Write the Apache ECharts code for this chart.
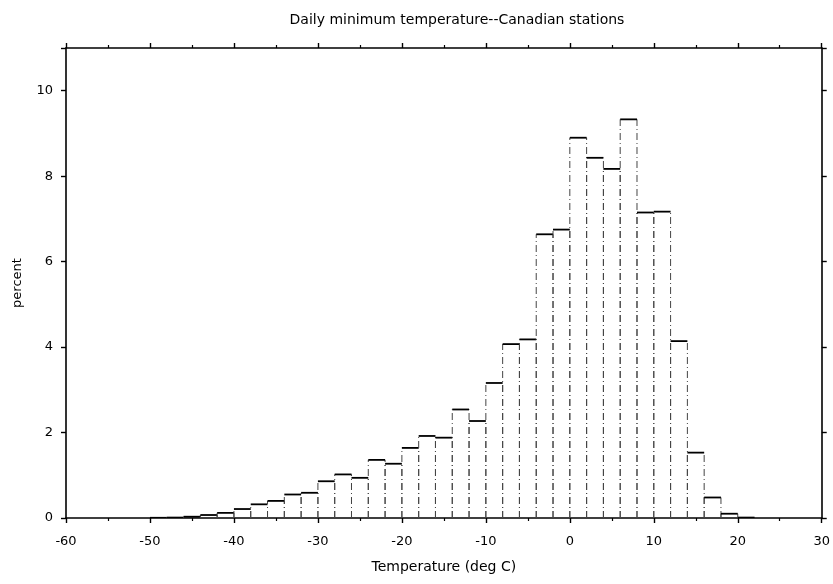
<!DOCTYPE html>
<html>
<head>
<meta charset="utf-8">
<script src="https://cdn.jsdelivr.net/npm/echarts@6/dist/echarts.min.js"></script>
<style>
html,body{margin:0;padding:0;background:#fff;}
#chart{width:833px;height:584px;}
</style>
</head>
<body>
<div id="chart"></div>
<script>
// Histogram bins (deg C), 2-degree width
var binStart = [-50,-48,-46,-44,-42,-40,-38,-36,-34,-32,-30,-28,-26,-24,-22,-20,-18,-16,-14,-12,-10,-8,-6,-4,-2,0,2,4,6,8,10,12,14,16,18,20];
var binWidth = 2;
var percentValues = [0.005,0.01,0.03,0.07,0.12,0.21,0.32,0.40,0.55,0.59,0.86,1.02,0.94,1.36,1.27,1.64,1.92,1.88,2.54,2.27,3.16,4.07,4.18,6.64,6.75,8.90,8.43,8.17,9.33,7.15,7.17,4.14,1.53,0.48,0.10,0.01];
var xTicks = [-60,-50,-40,-30,-20,-10,0,10,20,30];
var yTicks = [0,2,4,6,8,10];

var titleText = 'Daily minimum temperature--Canadian stations';
var xName = 'Temperature (deg C)';
var yName = 'percent';

var FONT = '"DejaVu Sans", "Liberation Sans", Arial, sans-serif';

var data = binStart.map(function (s, i) { return [s, s + binWidth, percentValues[i]]; });

var chart = echarts.init(document.getElementById('chart'), null, {renderer: 'canvas'});

var axisLineStyle = {color: '#000', width: 1.6};

function xAxisBase(pos, showLabel) {
  return {
    type: 'value', position: pos,
    min: xTicks[0], max: xTicks[xTicks.length - 1], interval: 10,
    axisLine: {show: true, onZero: false, lineStyle: axisLineStyle},
    axisTick: {show: true, inside: false, length: 5, lineStyle: {color: '#000', width: 1.4}},
    minorTick: {show: true, splitNumber: 2, length: 3, lineStyle: {color: '#000', width: 1.2}},
    splitLine: {show: false},
    axisLabel: {show: showLabel, color: '#000', fontSize: 13, fontFamily: FONT, margin: 17,
      formatter: function (v) { return xTicks.indexOf(v) >= 0 ? String(v) : ''; }},
    name: showLabel ? xName : '',
    nameLocation: 'middle', nameGap: 42,
    nameTextStyle: {color: '#000', fontSize: 14, fontFamily: FONT}
  };
}
function yAxisBase(pos, showLabel) {
  return {
    type: 'value', position: pos,
    min: 0, max: 11, interval: 2,
    axisLine: {show: true, onZero: false, lineStyle: axisLineStyle},
    axisTick: {show: true, inside: false, length: 5, lineStyle: {color: '#000', width: 1.4}},
    splitLine: {show: false},
    axisLabel: {show: showLabel, color: '#000', fontSize: 13, fontFamily: FONT, margin: 13,
      formatter: function (v) { return yTicks.indexOf(v) >= 0 ? String(v) : ''; }},
    name: showLabel ? yName : '',
    nameLocation: 'middle', nameGap: 42, nameRotate: 90,
    nameTextStyle: {color: '#000', fontSize: 13, fontFamily: FONT}
  };
}

var option = {
  animation: false,
  backgroundColor: '#fff',
  title: {
    text: titleText, left: 452, top: 8, textAlign: 'center',
    textStyle: {color: '#000', fontSize: 14, fontWeight: 'normal', fontFamily: FONT}
  },
  grid: {left: 66, right: 10, top: 48, bottom: 66, containLabel: false},
  xAxis: [xAxisBase('bottom', true), xAxisBase('top', false)],
  yAxis: [yAxisBase('left', true), yAxisBase('right', false)],
  series: [{
    type: 'custom',
    xAxisIndex: 0, yAxisIndex: 0,
    data: data,
    encode: {x: [0, 1], y: 2},
    clip: true,
    renderItem: function (params, api) {
      var x0 = api.value(0), x1 = api.value(1), v = api.value(2);
      var pBL = api.coord([x0, 0]);
      var pTL = api.coord([x0, v]);
      var pBR = api.coord([x1, 0]);
      var pTR = api.coord([x1, v]);
      var side = {stroke: '#444', lineWidth: 1, lineDash: [7, 3, 1, 3]};
      return {
        type: 'group',
        children: [
          {type: 'line', shape: {x1: pBL[0], y1: pBL[1], x2: pTL[0], y2: pTL[1]}, style: side},
          {type: 'line', shape: {x1: pBR[0], y1: pBR[1], x2: pTR[0], y2: pTR[1]}, style: side},
          {type: 'line', shape: {x1: pTL[0], y1: pTL[1], x2: pTR[0], y2: pTR[1]}, style: {stroke: '#000', lineWidth: 1.8}}
        ]
      };
    }
  }]
};
chart.setOption(option);
</script>
</body>
</html>
